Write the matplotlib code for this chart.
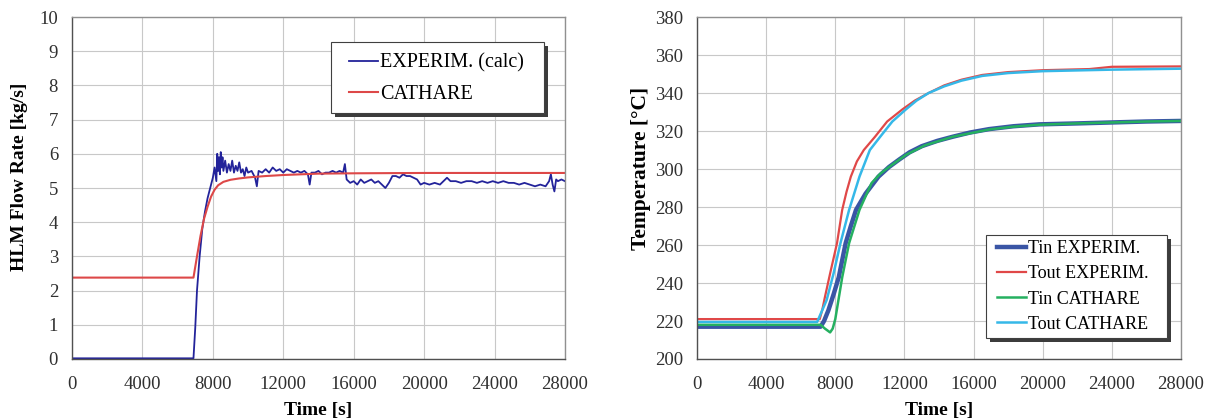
import matplotlib
matplotlib.use("Agg")
import matplotlib.pyplot as plt
from matplotlib.patches import Rectangle

plt.rcParams['font.family'] = ['Liberation Serif', 'DejaVu Serif']

# ---- Left chart data (HLM flow rate) ----
exp_t = [0, 6900, 7000, 7100, 7250, 7400, 7550, 7700, 7850, 8000, 8100, 8200, 8250, 8300, 8350,
         8400, 8450, 8500, 8550, 8600, 8700, 8800, 8900, 9000, 9100, 9200, 9300, 9400, 9500,
         9600, 9700, 9800, 9900, 10000, 10200, 10400, 10500, 10600, 10800, 11000, 11200, 11400,
         11600, 11800, 12000, 12200, 12400, 12600, 12800, 13000, 13200, 13400, 13500, 13600,
         13800, 14000, 14200, 14400, 14600, 14800, 15000, 15200, 15400, 15500, 15600, 15800,
         16000, 16200, 16400, 16600, 16800, 17000, 17200, 17400, 17600, 17800, 18000, 18200,
         18400, 18600, 18800, 19000, 19200, 19400, 19600, 19800, 20000, 20300, 20600, 20900,
         21100, 21300, 21500, 21800, 22100, 22400, 22700, 23000, 23300, 23600, 23900, 24200,
         24500, 24800, 25100, 25400, 25700, 26000, 26300, 26600, 26900, 27100, 27200, 27300,
         27400, 27500, 27600, 27800, 28000]
exp_v = [0.02, 0.02, 0.9, 2.0, 3.0, 3.8, 4.3, 4.7, 5.0, 5.3, 5.6, 5.2, 6.0, 5.5, 5.9,
         5.4, 6.05, 5.6, 5.9, 5.5, 5.8, 5.45, 5.7, 5.5, 5.8, 5.45, 5.65, 5.5, 5.75,
         5.45, 5.55, 5.35, 5.6, 5.45, 5.5, 5.3, 5.05, 5.5, 5.45, 5.55, 5.45, 5.6,
         5.5, 5.55, 5.45, 5.55, 5.5, 5.45, 5.5, 5.45, 5.5, 5.4, 5.1, 5.45,
         5.45, 5.5, 5.4, 5.45, 5.45, 5.5, 5.45, 5.5, 5.45, 5.7, 5.25, 5.15,
         5.2, 5.1, 5.25, 5.15, 5.2, 5.25, 5.15, 5.2, 5.1, 5.0, 5.15, 5.35,
         5.35, 5.3, 5.4, 5.35, 5.35, 5.3, 5.25, 5.1, 5.15, 5.1, 5.15, 5.1,
         5.2, 5.3, 5.2, 5.2, 5.15, 5.2, 5.2, 5.15, 5.2, 5.15, 5.2, 5.15,
         5.2, 5.15, 5.15, 5.1, 5.15, 5.1, 5.05, 5.1, 5.05, 5.2, 5.4, 5.1,
         4.9, 5.25, 5.2, 5.25, 5.2]

cat_t = [0, 6900, 7100, 7300, 7500, 7700, 7900, 8100, 8300, 8600, 9000, 9500, 10000, 11000,
         12000, 13000, 14000, 16000, 20000, 24000, 28000]
cat_v = [2.38, 2.38, 3.0, 3.6, 4.1, 4.45, 4.75, 4.95, 5.08, 5.18, 5.24, 5.28, 5.31, 5.35,
         5.38, 5.40, 5.42, 5.43, 5.44, 5.44, 5.44]

# ---- Right chart data (temperatures) ----
tin_exp_t = [0, 7150, 7350, 7600, 7900, 8200, 8600, 8900, 9200, 9750, 10500, 11100, 11700,
             12300, 13000, 13900, 14800, 15800, 16900, 18300, 19800, 22000, 24000, 26000, 28000]
tin_exp_v = [217, 217, 220, 225.6, 234, 243, 261, 270, 278.5, 287, 296, 301, 305,
             308.8, 312, 314.8, 317, 319.2, 321, 322.5, 323.5, 324, 324.5, 325, 325.3]

tout_exp_t = [0, 7100, 7250, 7400, 7700, 8100, 8400, 8650, 8900, 9250, 9650, 10300, 11000,
              11900, 12600, 13400, 14300, 15300, 16500, 18000, 20000, 22700, 24000, 28000]
tout_exp_v = [221, 221, 226, 232.6, 245, 261, 278.5, 288, 296, 304, 310, 317, 325,
              331.5, 336, 340, 344, 347, 349.5, 351, 352, 352.6, 353.8, 354]

tin_cat_t = [0, 7150, 7400, 7700, 7850, 8000, 8400, 8800, 9400, 10100, 10600, 11100, 12100,
             13200, 14800, 16900, 18300, 19800, 22000, 24000, 26000, 28000]
tin_cat_v = [218, 218, 216, 214, 216, 221, 243, 261, 278.5, 292.6, 297.5, 301, 307.5,
             312.5, 317, 320.8, 322.3, 323.3, 324, 324.5, 325, 325.3]

tout_cat_t = [0, 6950, 7500, 7900, 8300, 8800, 9400, 10000, 10600, 11300, 12100, 12700, 13400,
              14300, 15300, 16500, 18000, 20000, 24000, 28000]
tout_cat_v = [219.5, 219.5, 231, 245, 261, 278.5, 296, 310, 317, 325, 331.5, 336, 340,
              343.5, 346.5, 349, 350.5, 351.5, 352.3, 352.8]

xticks = [0, 4000, 8000, 12000, 16000, 20000, 24000, 28000]

fig = plt.figure(figsize=(12.16, 4.19), dpi=100)
ax1 = fig.add_axes([0.0592, 0.1432, 0.4054, 0.8162])
ax2 = fig.add_axes([0.5732, 0.1432, 0.398, 0.8162])

def style(ax):
    ax.grid(True, color='#c8c8c8', linewidth=0.8)
    ax.set_axisbelow(True)
    for s in ax.spines.values():
        s.set_color('#909090')
        s.set_linewidth(1.0)
    ax.spines['left'].set_color('#505050')
    ax.spines['bottom'].set_color('#505050')
    ax.tick_params(axis='both', length=0, labelsize=13.5, colors='#303030')
    ax.tick_params(axis='x', pad=12)
    ax.tick_params(axis='y', pad=10)
    ax.set_xticks(xticks)
    ax.set_xlim(0, 28000)

def legend_box(ax, x0, y0, x1, y1, off_px=4):
    bb = ax.get_position()
    dx = off_px / (bb.width * fig.bbox.width)
    dy = off_px / (bb.height * fig.bbox.height)
    sh = Rectangle((x0 + dx, y0 - dy), x1 - x0, y1 - y0, transform=ax.transAxes,
                   facecolor='#3c3c3c', edgecolor='none', zorder=4.8, clip_on=False)
    rect = Rectangle((x0, y0), x1 - x0, y1 - y0, transform=ax.transAxes,
                     facecolor='white', edgecolor='#404040', linewidth=0.8, zorder=4.9,
                     clip_on=False)
    ax.add_patch(sh)
    ax.add_patch(rect)

style(ax1)
ax1.plot(exp_t, exp_v, color='#23239a', linewidth=1.3, label='EXPERIM. (calc)')
ax1.plot(cat_t, cat_v, color='#dd4848', linewidth=1.5, label='CATHARE')
ax1.set_ylim(0, 10)
ax1.set_yticks(range(0, 11))
ax1.set_xlabel('Time [s]', fontsize=14, fontweight='bold', labelpad=7)
ax1.set_ylabel('HLM Flow Rate [kg/s]', fontsize=14, fontweight='bold')
ax1.yaxis.set_label_coords(-0.09, 0.532)
legend_box(ax1, 0.525, 0.719, 0.957, 0.927)
leg1 = ax1.legend(loc='upper left', bbox_to_anchor=(0.562, 0.893), fontsize=14.5,
                  frameon=False, handlelength=1.45, handletextpad=0.1, borderpad=0,
                  borderaxespad=0, labelspacing=0.62)
leg1.set_zorder(5)

style(ax2)
ax2.plot(tin_exp_t, tin_exp_v, color='#3a55a5', linewidth=3.2, label='Tin EXPERIM.')
ax2.plot(tout_exp_t, tout_exp_v, color='#e04848', linewidth=1.6, label='Tout EXPERIM.')
ax2.plot(tin_cat_t, tin_cat_v, color='#25b060', linewidth=1.8, label='Tin CATHARE')
ax2.plot(tout_cat_t, tout_cat_v, color='#35b8e8', linewidth=1.8, label='Tout CATHARE')
ax2.set_ylim(200, 380)
ax2.set_yticks(range(200, 381, 20))
ax2.set_xlabel('Time [s]', fontsize=14, fontweight='bold', labelpad=7)
ax2.set_ylabel('Temperature [°C]', fontsize=15.5, fontweight='bold')
ax2.yaxis.set_label_coords(-0.095, 0.556)
legend_box(ax2, 0.597, 0.061, 0.971, 0.363)
leg2 = ax2.legend(loc='upper left', bbox_to_anchor=(0.62, 0.347), fontsize=13,
                  frameon=False, handlelength=1.6, handletextpad=0.1, borderpad=0,
                  borderaxespad=0, labelspacing=0.45)
leg2.set_zorder(5)

fig.savefig('out.png', dpi=100)
